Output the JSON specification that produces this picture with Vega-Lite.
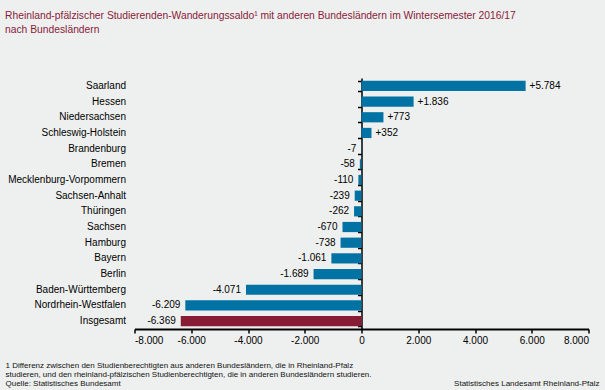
{
  "$schema": "https://vega.github.io/schema/vega-lite/v6.json",
  "width": 454,
  "height": 251,
  "autosize": "none",
  "padding": {"left": 134.5, "top": 78, "right": 16.5, "bottom": 61},
  "background": "#eef0ef",
  "title": {
    "text": ["Rheinland-pfälzischer Studierenden-Wanderungssaldo¹ mit anderen Bundesländern im Wintersemester 2016/17", "nach Bundesländern"],
    "anchor": "start",
    "frame": "group",
    "dx": -129.5,
    "offset": 43,
    "font": "Liberation Sans",
    "fontSize": 10.3,
    "fontWeight": "normal",
    "color": "#8a1a38",
    "lineHeight": 13.5
  },
  "data": {
    "values": [
      {"land": "Saarland", "value": 5784},
      {"land": "Hessen", "value": 1836},
      {"land": "Niedersachsen", "value": 773},
      {"land": "Schleswig-Holstein", "value": 352},
      {"land": "Brandenburg", "value": -7},
      {"land": "Bremen", "value": -58},
      {"land": "Mecklenburg-Vorpommern", "value": -110},
      {"land": "Sachsen-Anhalt", "value": -239},
      {"land": "Thüringen", "value": -262},
      {"land": "Sachsen", "value": -670},
      {"land": "Hamburg", "value": -738},
      {"land": "Bayern", "value": -1061},
      {"land": "Berlin", "value": -1689},
      {"land": "Baden-Württemberg", "value": -4071},
      {"land": "Nordrhein-Westfalen", "value": -6209},
      {"land": "Insgesamt", "value": -6369}
    ]
  },
  "resolve": {"axis": {"x": "independent", "y": "independent"}},
  "layer": [
    {
      "mark": {"type": "bar"},
      "encoding": {
        "x": {
          "field": "value",
          "type": "quantitative",
          "scale": {"domain": [-8000, 8000], "nice": false},
          "axis": {
            "orient": "bottom",
            "values": [-8000, -6000, -4000, -2000, 0, 2000, 4000, 6000, 8000],
            "format": ",d",
            "grid": false,
            "labelFont": "Liberation Sans",
            "labelFontSize": 10,
            "labelColor": "#000000",
            "labelPadding": 2,
            "domainColor": "#000000",
            "domainWidth": 2,
            "tickColor": "#000000",
            "tickWidth": 1.5,
            "tickSize": 4,
            "title": [
              "1 Differenz zwischen den Studienberechtigten aus anderen Bundesländern, die in Rheinland-Pfalz",
              "studieren, und den rheinland-pfälzischen Studienberechtigten, die in anderen Bundesländern studieren.",
              "Quelle: Statistisches Bundesamt"
            ],
            "titleFont": "Liberation Sans",
            "titleFontSize": 8,
            "titleFontWeight": "normal",
            "titleColor": "#111111",
            "titleAnchor": "start",
            "titleAlign": "left",
            "titleBaseline": "top",
            "titleX": -129.5,
            "titleY": 32,
            "titleLineHeight": 9.3
          }
        },
        "y": {
          "field": "land",
          "type": "nominal",
          "sort": null,
          "scale": {"paddingInner": 0.35, "paddingOuter": 0.18},
          "axis": {
            "orient": "left",
            "title": null,
            "domain": false,
            "ticks": false,
            "tickSize": 0,
            "grid": false,
            "labelFont": "Liberation Sans",
            "labelFontSize": 10,
            "labelColor": "#000000",
            "labelPadding": 9
          }
        },
        "color": {
          "condition": {"test": "datum.land === 'Insgesamt'", "value": "#891c35"},
          "value": "#0072a3"
        }
      }
    },
    {
      "transform": [{"filter": "datum.value >= 0"}],
      "mark": {"type": "text", "align": "left", "baseline": "middle", "dx": 4, "font": "Liberation Sans", "fontSize": 10, "color": "#000000"},
      "encoding": {
        "x": {
          "field": "value",
          "type": "quantitative",
          "axis": {
            "orient": "bottom",
            "labels": false,
            "ticks": false,
            "domain": false,
            "grid": false,
            "title": "Statistisches Landesamt Rheinland-Pfalz",
            "titleFont": "Liberation Sans",
            "titleFontSize": 8,
            "titleFontWeight": "normal",
            "titleColor": "#111111",
            "titleAnchor": "start",
            "titleAlign": "right",
            "titleBaseline": "top",
            "titleX": 464.5,
            "titleY": 50
          }
        },
        "y": {
          "field": "land",
          "type": "nominal",
          "sort": null,
          "axis": {
            "orient": "left",
            "offset": -227,
            "title": null,
            "labels": false,
            "grid": false,
            "domain": true,
            "domainColor": "#000000",
            "domainWidth": 1.5,
            "ticks": true,
            "tickBand": "extent",
            "tickSize": 4,
            "tickColor": "#000000",
            "tickWidth": 1.5
          }
        },
        "text": {"field": "value", "type": "quantitative", "format": "+,d"}
      }
    },
    {
      "transform": [{"filter": "datum.value < 0"}],
      "mark": {"type": "text", "align": "right", "baseline": "middle", "dx": -5, "font": "Liberation Sans", "fontSize": 10, "color": "#000000"},
      "encoding": {
        "x": {"field": "value", "type": "quantitative", "axis": null},
        "y": {"field": "land", "type": "nominal", "sort": null, "axis": null},
        "text": {"field": "value", "type": "quantitative", "format": "+,d"}
      }
    }
  ],
  "config": {
    "view": {"stroke": null},
    "locale": {
      "number": {"decimal": ",", "thousands": ".", "grouping": [3], "currency": ["", " €"], "minus": "-"}
    }
  }
}
